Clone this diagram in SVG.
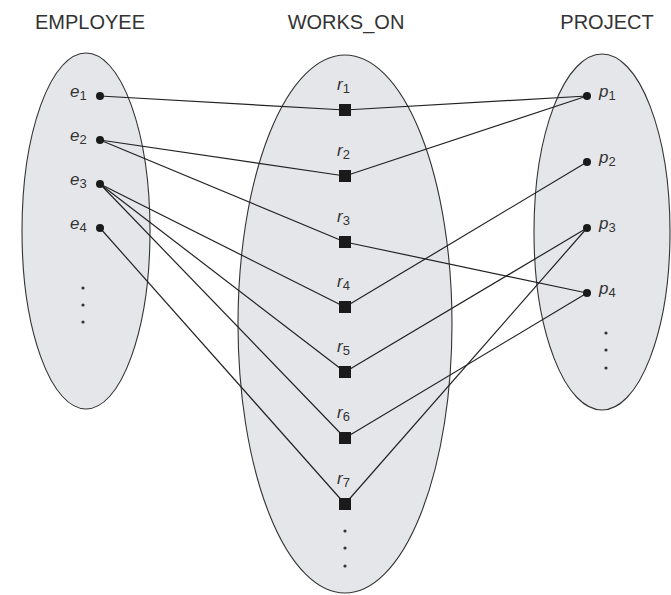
<svg xmlns="http://www.w3.org/2000/svg" width="671" height="595" viewBox="0 0 671 595">
<style>
.set{fill:#e5e6ea;stroke:#333;stroke-width:1.1}
.title{font-family:"Liberation Sans",Arial,sans-serif;font-size:20px;fill:#333;text-anchor:middle}
.lbl{font-family:"Liberation Sans",Arial,sans-serif;font-size:17px;font-style:italic;fill:#333}
.sub{font-size:13px;font-style:normal}
.dot{fill:#1a1a1a}
.sq{fill:#1a1a1a}
.conn line{stroke:#222;stroke-width:1.2}
.ell{fill:#333}
</style>
<rect width="671" height="595" fill="#ffffff"/>
<g id="titles">
<text class="title" x="90" y="29">EMPLOYEE</text>
<text class="title" x="346" y="29">WORKS_ON</text>
<text class="title" x="607" y="29">PROJECT</text>
</g>
<g id="EMPLOYEE"><ellipse class="set" cx="86" cy="231" rx="64" ry="178"/>
<circle class="ell" cx="83" cy="288" r="1.6"/><circle class="ell" cx="83" cy="305" r="1.6"/><circle class="ell" cx="83" cy="322" r="1.6"/></g>
<g id="WORKS_ON"><ellipse class="set" cx="345" cy="324" rx="107" ry="269"/>
<circle class="ell" cx="345" cy="531" r="1.6"/><circle class="ell" cx="345" cy="548" r="1.6"/><circle class="ell" cx="345" cy="566" r="1.6"/></g>
<g id="PROJECT"><ellipse class="set" cx="602" cy="232" rx="68" ry="178"/>
<circle class="ell" cx="606" cy="333" r="1.6"/><circle class="ell" cx="606" cy="350" r="1.6"/><circle class="ell" cx="606" cy="368" r="1.6"/></g>
<g id="connectors" class="conn">
<line x1="100" y1="96" x2="345" y2="110"/><line x1="345" y1="110" x2="587" y2="96"/>
<line x1="100" y1="140" x2="345" y2="176"/><line x1="345" y1="176" x2="587" y2="96"/>
<line x1="100" y1="140" x2="345" y2="242"/><line x1="345" y1="242" x2="587" y2="293"/>
<line x1="100" y1="184" x2="345" y2="307"/><line x1="345" y1="307" x2="587" y2="162"/>
<line x1="100" y1="184" x2="345" y2="372"/><line x1="345" y1="372" x2="587" y2="228"/>
<line x1="100" y1="184" x2="345" y2="438"/><line x1="345" y1="438" x2="587" y2="293"/>
<line x1="100" y1="228" x2="345" y2="504"/><line x1="345" y1="504" x2="587" y2="228"/>
</g>
<g id="e1"><circle class="dot" cx="100" cy="96" r="4"/><text class="lbl" x="70" y="97">e<tspan class="sub" dy="3">1</tspan></text></g>
<g id="e2"><circle class="dot" cx="100" cy="140" r="4"/><text class="lbl" x="70" y="141">e<tspan class="sub" dy="3">2</tspan></text></g>
<g id="e3"><circle class="dot" cx="100" cy="184" r="4"/><text class="lbl" x="70" y="185">e<tspan class="sub" dy="3">3</tspan></text></g>
<g id="e4"><circle class="dot" cx="100" cy="228" r="4"/><text class="lbl" x="70" y="229">e<tspan class="sub" dy="3">4</tspan></text></g>
<g id="r1"><rect class="sq" x="339" y="104" width="12" height="12"/><text class="lbl" x="337" y="90">r<tspan class="sub" dy="3">1</tspan></text></g>
<g id="r2"><rect class="sq" x="339" y="170" width="12" height="12"/><text class="lbl" x="337" y="156">r<tspan class="sub" dy="3">2</tspan></text></g>
<g id="r3"><rect class="sq" x="339" y="236" width="12" height="12"/><text class="lbl" x="337" y="222">r<tspan class="sub" dy="3">3</tspan></text></g>
<g id="r4"><rect class="sq" x="339" y="301" width="12" height="12"/><text class="lbl" x="337" y="287">r<tspan class="sub" dy="3">4</tspan></text></g>
<g id="r5"><rect class="sq" x="339" y="366" width="12" height="12"/><text class="lbl" x="337" y="352">r<tspan class="sub" dy="3">5</tspan></text></g>
<g id="r6"><rect class="sq" x="339" y="432" width="12" height="12"/><text class="lbl" x="337" y="418">r<tspan class="sub" dy="3">6</tspan></text></g>
<g id="r7"><rect class="sq" x="339" y="498" width="12" height="12"/><text class="lbl" x="337" y="484">r<tspan class="sub" dy="3">7</tspan></text></g>
<g id="p1"><circle class="dot" cx="587" cy="96" r="4"/><text class="lbl" x="599" y="97">p<tspan class="sub" dy="3">1</tspan></text></g>
<g id="p2"><circle class="dot" cx="587" cy="162" r="4"/><text class="lbl" x="599" y="163">p<tspan class="sub" dy="3">2</tspan></text></g>
<g id="p3"><circle class="dot" cx="587" cy="228" r="4"/><text class="lbl" x="599" y="229">p<tspan class="sub" dy="3">3</tspan></text></g>
<g id="p4"><circle class="dot" cx="587" cy="293" r="4"/><text class="lbl" x="599" y="294">p<tspan class="sub" dy="3">4</tspan></text></g>
</svg>
